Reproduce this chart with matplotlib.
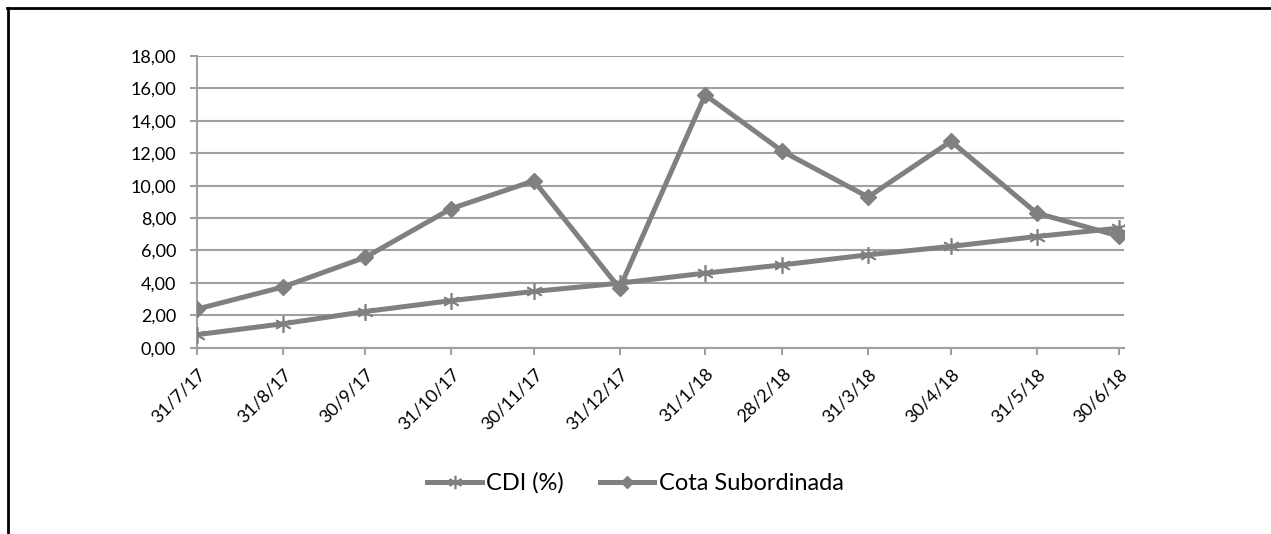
import numpy as np
import matplotlib
matplotlib.use("Agg")
import matplotlib.pyplot as plt
import matplotlib.dates as mdates
from matplotlib.lines import Line2D
from datetime import date

plt.rcParams["font.family"] = ["Lato", "DejaVu Sans"]

# data
dates = [
    date(2017, 7, 31), date(2017, 8, 31), date(2017, 9, 30), date(2017, 10, 31),
    date(2017, 11, 30), date(2017, 12, 31), date(2018, 1, 31), date(2018, 2, 28),
    date(2018, 3, 31), date(2018, 4, 30), date(2018, 5, 31), date(2018, 6, 30),
]
tick_labels = [
    "31/7/17", "31/8/17", "30/9/17", "31/10/17", "30/11/17", "31/12/17",
    "31/1/18", "28/2/18", "31/3/18", "30/4/18", "31/5/18", "30/6/18",
]
cdi = [0.80, 1.47, 2.23, 2.90, 3.47, 3.98, 4.60, 5.11, 5.73, 6.25, 6.86, 7.38]
cota = [2.38, 3.74, 5.58, 8.58, 10.30, 3.66, 15.60, 12.12, 9.30, 12.74, 8.31, 6.88]

_gray = "#808080"
_grid = "#a0a0a0"

fig = plt.figure(figsize=(12.71, 5.34), dpi=100)
ax = fig.add_axes([0.155, 0.349, 0.729, 0.546])

ax.plot(dates, cdi, color=_gray, linewidth=3.6, marker=(6, 2, 0),
        markersize=12, markeredgewidth=1.2, markeredgecolor=_gray,
        label="CDI (%)", zorder=5)
ax.plot(dates, cota, color=_gray, linewidth=3.6, marker="D",
        markersize=8, markeredgecolor=_gray, markerfacecolor=_gray,
        label="Cota Subordinada", zorder=6)

ax.set_ylim(0, 18)
ax.set_yticks(np.arange(0, 18.1, 2))
ax.set_yticklabels([f"{v:.2f}".replace(".", ",") for v in np.arange(0, 18.1, 2)])
ax.set_xlim(mdates.date2num(dates[0]), mdates.date2num(dates[-1]) + 1.5)
ax.set_xticks(mdates.date2num(dates))
ax.set_xticklabels(tick_labels, rotation=45, ha="right", va="top",
                   rotation_mode="anchor")

ax.grid(which="major", axis="y", color=_grid, linewidth=1.5, zorder=0)
ax.set_axisbelow(True)
for s in ["top", "right"]:
    ax.spines[s].set_visible(False)
for s in ["left", "bottom"]:
    ax.spines[s].set_color(_grid)
    ax.spines[s].set_linewidth(1.5)
ax.tick_params(axis="both", colors=_grid, width=1.5, length=5,
               labelcolor="black", labelsize=13)
ax.tick_params(axis="y", pad=10)
ax.tick_params(axis="x", pad=8)

leg = ax.legend(loc="center", bbox_to_anchor=(0.5, 0.095),
                bbox_transform=fig.transFigure, ncol=2, frameon=False,
                fontsize=17, handlelength=2.3, handletextpad=0.2,
                columnspacing=1.5, markerscale=0.8)

# outer frame (top and left edges only visible)
fig.add_artist(Line2D([0.0055, 1.0], [0.985, 0.985], color="black",
                      linewidth=2, transform=fig.transFigure))
fig.add_artist(Line2D([0.0065, 0.0065], [0.0, 0.985], color="black",
                      linewidth=2, transform=fig.transFigure))

fig.savefig("out.png", dpi=100)
